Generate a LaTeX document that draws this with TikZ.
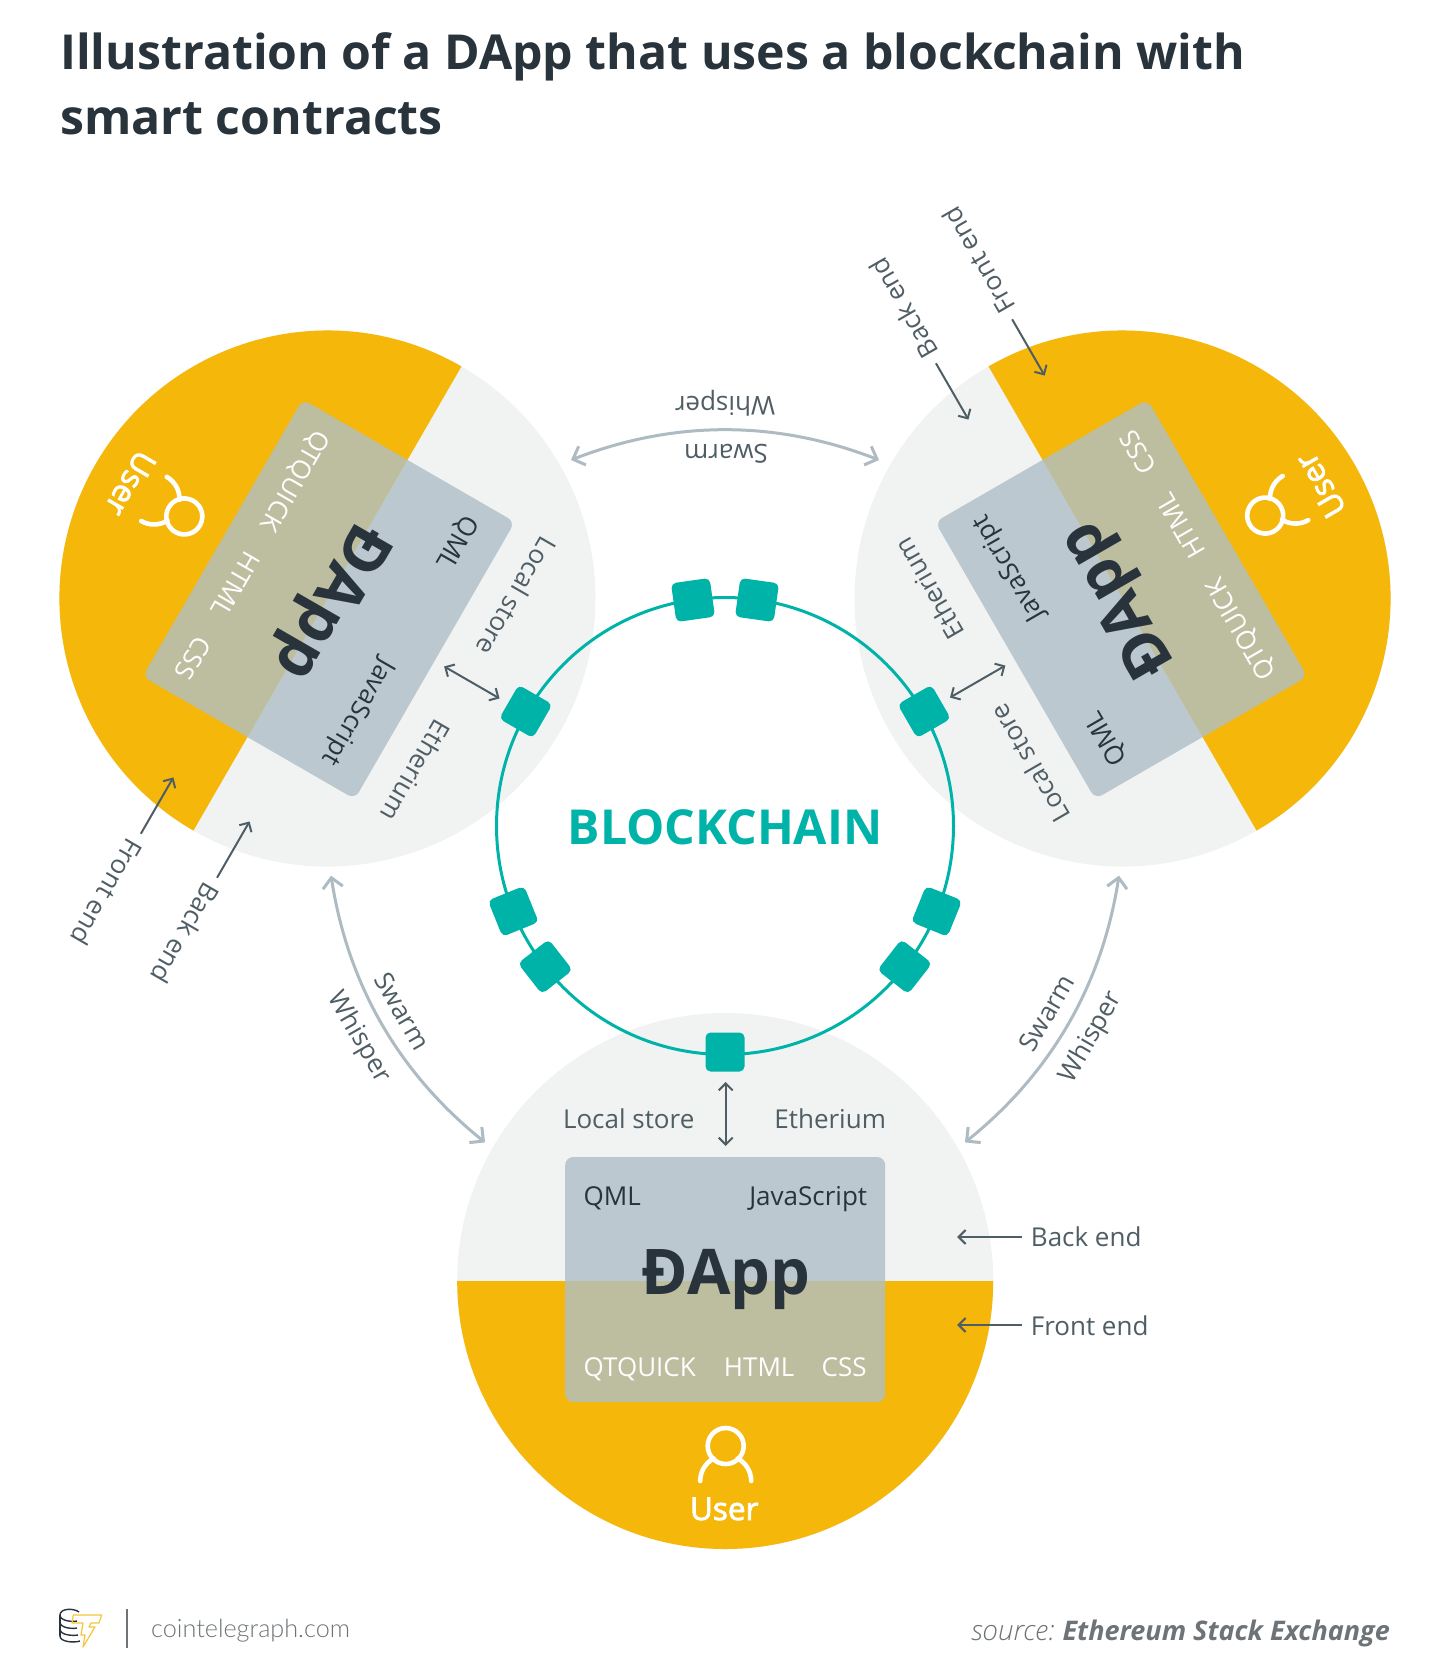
\documentclass[tikz,border=0pt]{standalone}
\usepackage{fontspec}
\setmainfont{Open Sans}
\newfontfamily\cgfont{Lato Light}
\newfontfamily\srcfont{Open Sans Light}
\newfontfamily\semifont[FakeBold=2.5]{Open Sans}
\usetikzlibrary{arrows.meta}
\definecolor{amberfill}{HTML}{F5B70A}
\definecolor{palefill}{HTML}{F1F3F3}
\definecolor{cardblue}{HTML}{BCC8CF}
\definecolor{cardolive}{HTML}{BDBDA0}
\definecolor{inkdark}{HTML}{28333B}
\definecolor{slate}{HTML}{4F5D65}
\definecolor{arcgrey}{HTML}{AEBBC2}
\definecolor{teal}{HTML}{00B3A8}
\definecolor{srcgrey}{HTML}{6D7377}
\tikzset{
  x=1pt,y=1pt,
  label26/.style={anchor=base,inner sep=0pt,text=slate,font=\fontsize{26}{30}\selectfont},
  cardtxt/.style={anchor=base,inner sep=0pt,text=inkdark,font=\fontsize{26}{30}\selectfont},
  cardwhite/.style={anchor=base,inner sep=0pt,text=white,font=\fontsize{26}{30}\selectfont},
  dappname/.style={anchor=base,inner sep=0pt,text=inkdark,font=\fontsize{63}{70}\selectfont\bfseries},
  usertxt/.style={anchor=base,inner sep=0pt,text=white,font=\semifont\fontsize{31.5}{36}\selectfont},
  thinarrow/.style={draw=slate,line width=2pt,{Straight Barb[length=7pt,width=14pt,line width=2pt]}-},
  bothways/.style={draw=slate,line width=2pt,{Straight Barb[length=7pt,width=14pt,line width=2pt]}-{Straight Barb[length=7pt,width=14pt,line width=2pt]}},
  p2parc/.style={draw=arcgrey,line width=3pt,{Straight Barb[length=10pt,width=20pt,line width=3pt]}-{Straight Barb[length=10pt,width=20pt,line width=3pt]}},
  chainbox/.style={fill=teal,rounded corners=5pt,minimum width=39pt,minimum height=39pt,inner sep=0pt},
  usericon/.style={draw=white,line width=4.6pt,line cap=round},
}
% one D-App disc, drawn below the ring centre and turned about it
\newcommand{\dappdisc}[3]{%
\begin{scope}[shift={(725+#3,-826)},rotate=#2,every node/.append style={transform shape}]
  \fill[palefill] (0,-455) circle[radius=268];
  \fill[amberfill] (-268,-455) arc[start angle=180,end angle=360,radius=268] -- cycle;
  \fill[cardblue] (-160,-455) [rounded corners=8] -- (-160,-331) -- (160,-331) [sharp corners] -- (160,-455) -- cycle;
  \fill[cardolive] (-160,-455) [rounded corners=8] -- (-160,-576) -- (160,-576) [sharp corners] -- (160,-455) -- cycle;
  \node[label26] (#1local) at (-96.5,-302) {Local store};
  \node[label26] (#1eth) at (105,-302) {Etherium};
  \node[cardtxt] (#1qml) at (-113,-379) {QML};
  \node[cardtxt] (#1js) at (83,-379) {JavaScript};
  \node[dappname] (#1name) at (1,-468.4) {ĐApp};
  \node[cardwhite] (#1qt) at (-85.5,-550.7) {QTQUICK};
  \node[cardwhite] (#1html) at (34,-550.7) {HTML};
  \node[cardwhite] (#1css) at (119,-550.7) {CSS};
  \node[usertxt] (#1user) at (-1,-694) {User};
  \node[label26,anchor=base west] (#1back) at (305.5,-420) {Back end};
  \node[label26,anchor=base west] (#1front) at (305.5,-509) {Front end};
  \coordinate (#1backtip) at (232,-411);
  \coordinate (#1backtail) at (297,-411);
  \coordinate (#1fronttip) at (232,-499);
  \coordinate (#1fronttail) at (297,-499);
  \coordinate (#1linka) at (0.5,-256);
  \coordinate (#1linkb) at (0.5,-320);
  \draw[thinarrow] (#1backtip) -- (#1backtail);
  \draw[thinarrow] (#1fronttip) -- (#1fronttail);
  \draw[usericon] (0.5,-620) circle[radius=18];
  \draw[usericon] (-25,-655) arc[start angle=180,end angle=118,radius=25.5];
  \draw[usericon] (26,-655) arc[start angle=0,end angle=62,radius=25.5];
\end{scope}}
% ring blocks and link arrow, on top of the ring
\newcommand{\ringparts}[4]{%
\begin{scope}[shift={(725,-826)},rotate=#2,every node/.append style={transform shape}]
  \node[chainbox,rotate=8] (#1pairl) at (-32,226) {};
  \node[chainbox,rotate=-8] (#1pairr) at (32,226) {};
\end{scope}
\begin{scope}[shift={(725+#3,-826+#4)},rotate=#2,every node/.append style={transform shape}]
  \node[chainbox] (#1box) at (0,-226) {};
\end{scope}
\draw[bothways] (#1linka) -- (#1linkb);}
% Swarm / Whisper arc: above the ring, text upside down
\newcommand{\parc}[2]{%
\begin{scope}[shift={(725,-826)},rotate=#2,every node/.append style={transform shape}]
  \coordinate (#1l) at (-154,366);
  \coordinate (#1r) at (154,366);
  \draw[p2parc] (#1l) .. controls (-51,406) and (51,406) .. (#1r);
  \node[label26,anchor=center,rotate=180] (#1sw) at (1,372) {Swarm};
  \node[label26,anchor=center,rotate=180] (#1wh) at (0,423) {Whisper};
\end{scope}}
\begin{document}
\begin{tikzpicture}[x=1pt,y=1pt]
\useasboundingbox (0,0) rectangle (1450,-1679);
\fill[white] (0,0) rectangle (1450,-1679);
\node[anchor=base west,inner sep=0pt,text=inkdark,font=\fontsize{48.2}{60}\selectfont\bfseries] (t1) at (60,-69) {Illustration of a DApp that uses a blockchain with};
\node[anchor=base west,inner sep=0pt,text=inkdark,font=\fontsize{48.2}{60}\selectfont\bfseries] (t2) at (60,-134) {smart contracts};
\dappdisc{d}{0}{0.2}
\dappdisc{l}{-120}{-3.5}
\dappdisc{r}{120}{3.5}
\node[draw=teal,line width=3pt,circle,minimum size=457pt,inner sep=0pt] (ring) at (725,-826) {};
\ringparts{d}{0}{0}{0}
\ringparts{l}{-120}{-3.5}{1.5}
\ringparts{r}{120}{3.5}{1.5}
\parc{ta}{0}
\parc{la}{120}
\parc{ra}{-120}
\node[anchor=center,inner sep=0pt,text=teal,font=\fontsize{48.2}{60}\selectfont\bfseries] (chain) at (725,-827) {BLOCKCHAIN};
% footer logo
\begin{scope}[shift={(50,-1600)}]
 \draw[inkdark,line width=1.4pt] (10,-15) .. controls (10,-8) and (24,-8) .. (29,-12);
 \draw[inkdark,line width=1.4pt] (10,-15) -- (10,-36);
 \draw[inkdark,line width=1.4pt] (10,-15) .. controls (10,-21) and (22,-22) .. (27,-21);
 \draw[inkdark,line width=1.4pt] (10,-22) .. controls (10,-28) and (22,-29) .. (27,-28);
 \draw[inkdark,line width=1.4pt] (10,-29) .. controls (10,-35) and (22,-36) .. (28,-35);
 \draw[inkdark,line width=1.4pt] (10,-36) .. controls (10,-42) and (24,-43) .. (30,-41);
 \draw[amberfill!80!white,line width=1.2pt,line join=round] (23.3,-15) -- (51.7,-15) -- (49,-23) -- (41,-23) -- (39,-27) -- (45,-27) -- (33,-47) -- (35,-35) -- (31,-35) -- (33,-23) -- (22,-23) -- cycle;
\end{scope}
\draw[srcgrey,line width=2.4pt] (127,-1609) -- (127,-1648);
\node[anchor=base west,inner sep=0pt,text=srcgrey,font=\cgfont\fontsize{25.2}{30}\selectfont] (cg) at (151,-1637) {cointelegraph.com};
\node[anchor=base east,inner sep=0pt,text=srcgrey,font=\fontsize{27}{30}\selectfont] (src) at (1390,-1640) {\textbf{\textit{Ethereum Stack Exchange}}};
\node[anchor=base east,inner sep=0pt,text=srcgrey,font=\srcfont\itshape\fontsize{28}{30}\selectfont] (srcl) at (1055,-1640) {source:};
\end{tikzpicture}
\end{document}
